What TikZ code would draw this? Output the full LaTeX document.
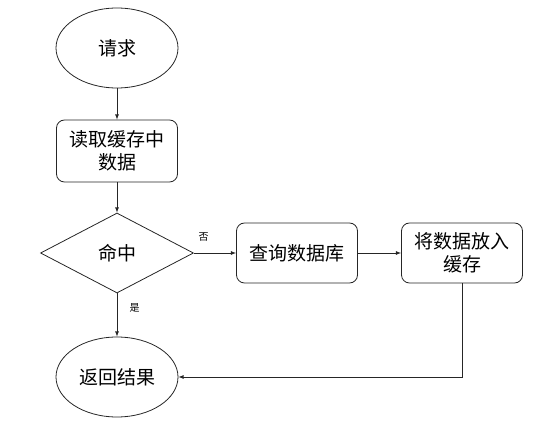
\documentclass[tikz,border=0pt]{standalone}
\usepackage{fontspec}
\newfontfamily\cjk{Noto Sans CJK SC}
\usetikzlibrary{shapes.geometric}

\begin{document}
\begin{tikzpicture}[x = 1pt, y = -1pt, line width = 0.8pt, draw = black!85,
    font = \cjk\fontsize{19}{23}\selectfont]
\useasboundingbox (0,0) rectangle (541,435);
\draw (117,48) node[ellipse, draw, minimum width = 122pt, minimum height = 80pt](a1){请求}
    (117,151) node[rectangle, rounded corners = 8pt, draw, minimum width = 121pt, minimum height = 62pt, align = center](a2){读取缓存中\\数据}
    (117,253) node[diamond, draw, aspect = 1.9, inner sep = 0pt, minimum width = 153pt, minimum height = 80pt](a3){命中}
    (297,253) node[rectangle, rounded corners = 8pt, draw, minimum width = 121pt, minimum height = 60pt](a4){查询数据库}
    (462,253) node[rectangle, rounded corners = 8pt, draw, minimum width = 121pt, minimum height = 60pt, align = center](a5){将数据放入\\缓存}
    (117,377) node[ellipse, draw, minimum width = 122pt, minimum height = 80pt](a6){返回结果};
    \draw [-latex] (a1) -- (a2);
    \draw [-latex] (a2) -- (a3);
    \draw [-latex] (a3) -- (a4) node[pos = 0.23, above = 8pt, font = \cjk\fontsize{10}{12}\selectfont] {否};
    \draw [-latex] (a4) -- (a5);
    \draw [-latex] (a3) -- (a6) node[pos = 0.34, right = 9pt, font = \cjk\fontsize{10}{12}\selectfont] {是};
    \draw [-latex] (a5.south) |- (a6.east);
\end{tikzpicture}
\end{document}
